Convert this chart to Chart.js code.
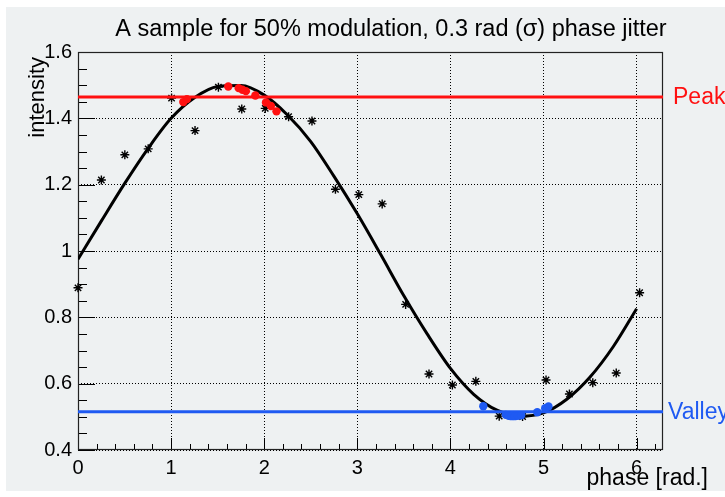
<!DOCTYPE html>
<html><head><meta charset="utf-8">
<script src="https://cdn.jsdelivr.net/npm/chart.js@4.4.1/dist/chart.umd.min.js"></script>
<style>html,body{margin:0;padding:0;background:#fff;overflow:hidden}</style>
</head><body>
<canvas id="c" width="725" height="497"></canvas>
<script>
const chartTitle = "A sample for 50% modulation, 0.3 rad (\u03c3) phase jitter";
const xAxisTitle = "phase [rad.]";
const yAxisTitle = "intensity";
const xTickValues = [0, 1, 2, 3, 4, 5, 6];
const xTickLabels = ["0", "1", "2", "3", "4", "5", "6"];
const yTickValues = [0.4, 0.6, 0.8, 1.0, 1.2, 1.4, 1.6];
const yTickLabels = ["0.4", "0.6", "0.8", "1", "1.2", "1.4", "1.6"];
const phaseMin = 0, phaseMax = 6.2832;
const intensityMin = 0.4, intensityMax = 1.6;

const samplePhase = [0, 0.251, 0.503, 0.754, 1.005, 1.257, 1.508, 1.759, 2.011, 2.262, 2.513, 2.765, 3.016, 3.267, 3.519, 3.770, 4.021, 4.273, 4.524, 4.775, 5.027, 5.278, 5.529, 5.781, 6.032];
const sampleIntensity = [0.889, 1.214, 1.290, 1.308, 1.461, 1.363, 1.494, 1.428, 1.430, 1.405, 1.392, 1.186, 1.170, 1.142, 0.839, 0.629, 0.596, 0.607, 0.502, 0.501, 0.611, 0.569, 0.603, 0.632, 0.874];

const peakPhase = [1.131, 1.170, 1.614, 1.726, 1.766, 1.803, 1.905, 2.019, 2.072, 2.132];
const peakIntensity = [1.449, 1.458, 1.496, 1.491, 1.486, 1.482, 1.469, 1.448, 1.437, 1.421];

const valleyPhase = [4.353, 4.595, 4.625, 4.655, 4.690, 4.725, 4.760, 4.933, 5.018, 5.053];
const valleyIntensity = [0.532, 0.506, 0.503, 0.502, 0.502, 0.503, 0.505, 0.514, 0.526, 0.531];

const fitPhase = [0, 0.25, 0.5, 0.75, 1.0, 1.25, 1.5, 1.75, 2.0, 2.25, 2.5, 2.75, 3.0, 3.25, 3.5, 3.75, 4.0, 4.25, 4.5, 4.75, 5.0, 5.25, 5.5, 5.75, 6.0];
const fitIntensity = [0.975, 1.090, 1.203, 1.308, 1.400, 1.462, 1.496, 1.499, 1.470, 1.410, 1.330, 1.225, 1.112, 0.990, 0.865, 0.750, 0.646, 0.568, 0.520, 0.502, 0.512, 0.553, 0.620, 0.712, 0.826];

const peakLevel = 1.464;
const valleyLevel = 0.515;
const peakLabel = "Peak";
const valleyLabel = "Valley";

const FONT = "'Liberation Sans', Arial, Helvetica, sans-serif";
const BG = '#eef1f2';
const RED = '#ff1010';
const BLUE = '#1f5af2';

const pts = (xs, ys) => xs.map((x, i) => ({x: x, y: ys[i]}));

const decor = {
  id: 'decor',
  beforeDraw(chart) {
    const ctx = chart.ctx;
    ctx.save();
    ctx.fillStyle = '#ffffff';
    ctx.fillRect(0, 0, chart.width, chart.height);
    ctx.fillStyle = BG;
    ctx.fillRect(6, 7, chart.width - 6, chart.height - 13);
    ctx.restore();
  },
  beforeDatasetsDraw(chart) {
    const ctx = chart.ctx, a = chart.chartArea;
    const xs = chart.scales.x, ys = chart.scales.y;
    ctx.save();
    ctx.strokeStyle = '#000';
    ctx.lineWidth = 1;
    for (let k = 0; k <= 24; k++) {
      const v = intensityMin + k * 0.05;
      const yy = Math.round(ys.getPixelForValue(v)) + 0.5;
      const len = (k % 4 === 0) ? 17 : 9;
      ctx.beginPath(); ctx.moveTo(a.left, yy); ctx.lineTo(a.left + len, yy); ctx.stroke();
    }
    for (let k = 0; k <= 31; k++) {
      const v = k * 0.2;
      if (v > phaseMax) break;
      const xx = Math.round(xs.getPixelForValue(v)) + 0.5;
      const len = (k % 5 === 0) ? 12 : 6;
      ctx.beginPath(); ctx.moveTo(xx, a.bottom); ctx.lineTo(xx, a.bottom - len); ctx.stroke();
    }
    ctx.strokeStyle = '#222';
    ctx.lineWidth = 1.2;
    ctx.strokeRect(a.left + 0.5, a.top + 0.5, a.right - a.left - 1, a.bottom - a.top - 1);
    ctx.restore();
  },
  afterDraw(chart) {
    const ctx = chart.ctx, a = chart.chartArea;
    const ys = chart.scales.y;
    ctx.save();
    ctx.fillStyle = '#000';
    ctx.font = '23.5px ' + FONT;
    ctx.textAlign = 'center';
    ctx.textBaseline = 'alphabetic';
    ctx.fillText(chartTitle, 391, 36);
    ctx.font = '23px ' + FONT;
    ctx.textAlign = 'right';
    ctx.textBaseline = 'middle';
    ctx.fillText(xAxisTitle, 708, 479);
    ctx.save();
    ctx.translate(38, 57);
    ctx.rotate(-Math.PI / 2);
    ctx.font = '22px ' + FONT;
    ctx.textAlign = 'right';
    ctx.textBaseline = 'middle';
    ctx.fillText(yAxisTitle, 0, 0);
    ctx.restore();
    ctx.font = '23px ' + FONT;
    ctx.textAlign = 'left';
    ctx.textBaseline = 'middle';
    ctx.fillStyle = RED;
    ctx.fillText(peakLabel, a.right + 10, ys.getPixelForValue(peakLevel) + 1);
    ctx.fillStyle = BLUE;
    ctx.fillText(valleyLabel, a.right + 5, ys.getPixelForValue(valleyLevel) + 1);
    ctx.restore();
  }
};

new Chart(document.getElementById('c'), {
  type: 'scatter',
  data: {
    datasets: [
      { label: 'valley', data: pts(valleyPhase, valleyIntensity), order: 0,
        pointStyle: 'circle', pointRadius: 4.2, backgroundColor: BLUE, borderColor: BLUE, borderWidth: 0, showLine: false },
      { label: 'peak', data: pts(peakPhase, peakIntensity), order: 0,
        pointStyle: 'circle', pointRadius: 4.2, backgroundColor: RED, borderColor: RED, borderWidth: 0, showLine: false },
      { label: 'peakLevel', data: pts([phaseMin, phaseMax], [peakLevel, peakLevel]), order: 1,
        showLine: true, borderColor: RED, borderWidth: 3, pointRadius: 0, fill: false },
      { label: 'valleyLevel', data: pts([phaseMin, phaseMax], [valleyLevel, valleyLevel]), order: 1,
        showLine: true, borderColor: BLUE, borderWidth: 3, pointRadius: 0, fill: false },
      { label: 'samples', data: pts(samplePhase, sampleIntensity), order: 2, clip: false,
        pointStyle: 'star', pointRadius: 4.5, borderColor: '#000', backgroundColor: '#000', borderWidth: 1.4, showLine: false },
      { label: 'fit', data: pts(fitPhase, fitIntensity), order: 3,
        showLine: true, borderColor: '#000', borderWidth: 3, pointRadius: 0, tension: 0.4, cubicInterpolationMode: 'monotone', fill: false }
    ]
  },
  options: {
    responsive: false,
    animation: false,
    devicePixelRatio: 1,
    layout: { padding: { left: 0, right: 62, top: 52, bottom: 0 } },
    plugins: { legend: { display: false }, tooltip: { enabled: false }, title: { display: false } },
    scales: {
      x: {
        type: 'linear', min: phaseMin, max: phaseMax,
        afterFit(s) { s.height = 47; },
        afterBuildTicks(s) { s.ticks = xTickValues.map(v => ({value: v})); },
        ticks: { padding: 6, color: '#000', font: { family: FONT, size: 20 },
          callback: (v) => { const i = xTickValues.indexOf(v); return i >= 0 ? xTickLabels[i] : ''; } },
        grid: { color: '#000', lineWidth: 1, drawTicks: false },
        border: { display: false, dash: [1, 2] }
      },
      y: {
        type: 'linear', min: intensityMin, max: intensityMax,
        afterFit(s) { s.width = 78; },
        afterBuildTicks(s) { s.ticks = yTickValues.map(v => ({value: v})); },
        ticks: { padding: 6, color: '#000', font: { family: FONT, size: 20 },
          callback: (v) => { const i = yTickValues.findIndex(t => Math.abs(t - v) < 1e-9); return i >= 0 ? yTickLabels[i] : ''; } },
        grid: { color: '#000', lineWidth: 1, drawTicks: false },
        border: { display: false, dash: [1, 2] }
      }
    }
  },
  plugins: [decor]
});
</script>
</body></html>
